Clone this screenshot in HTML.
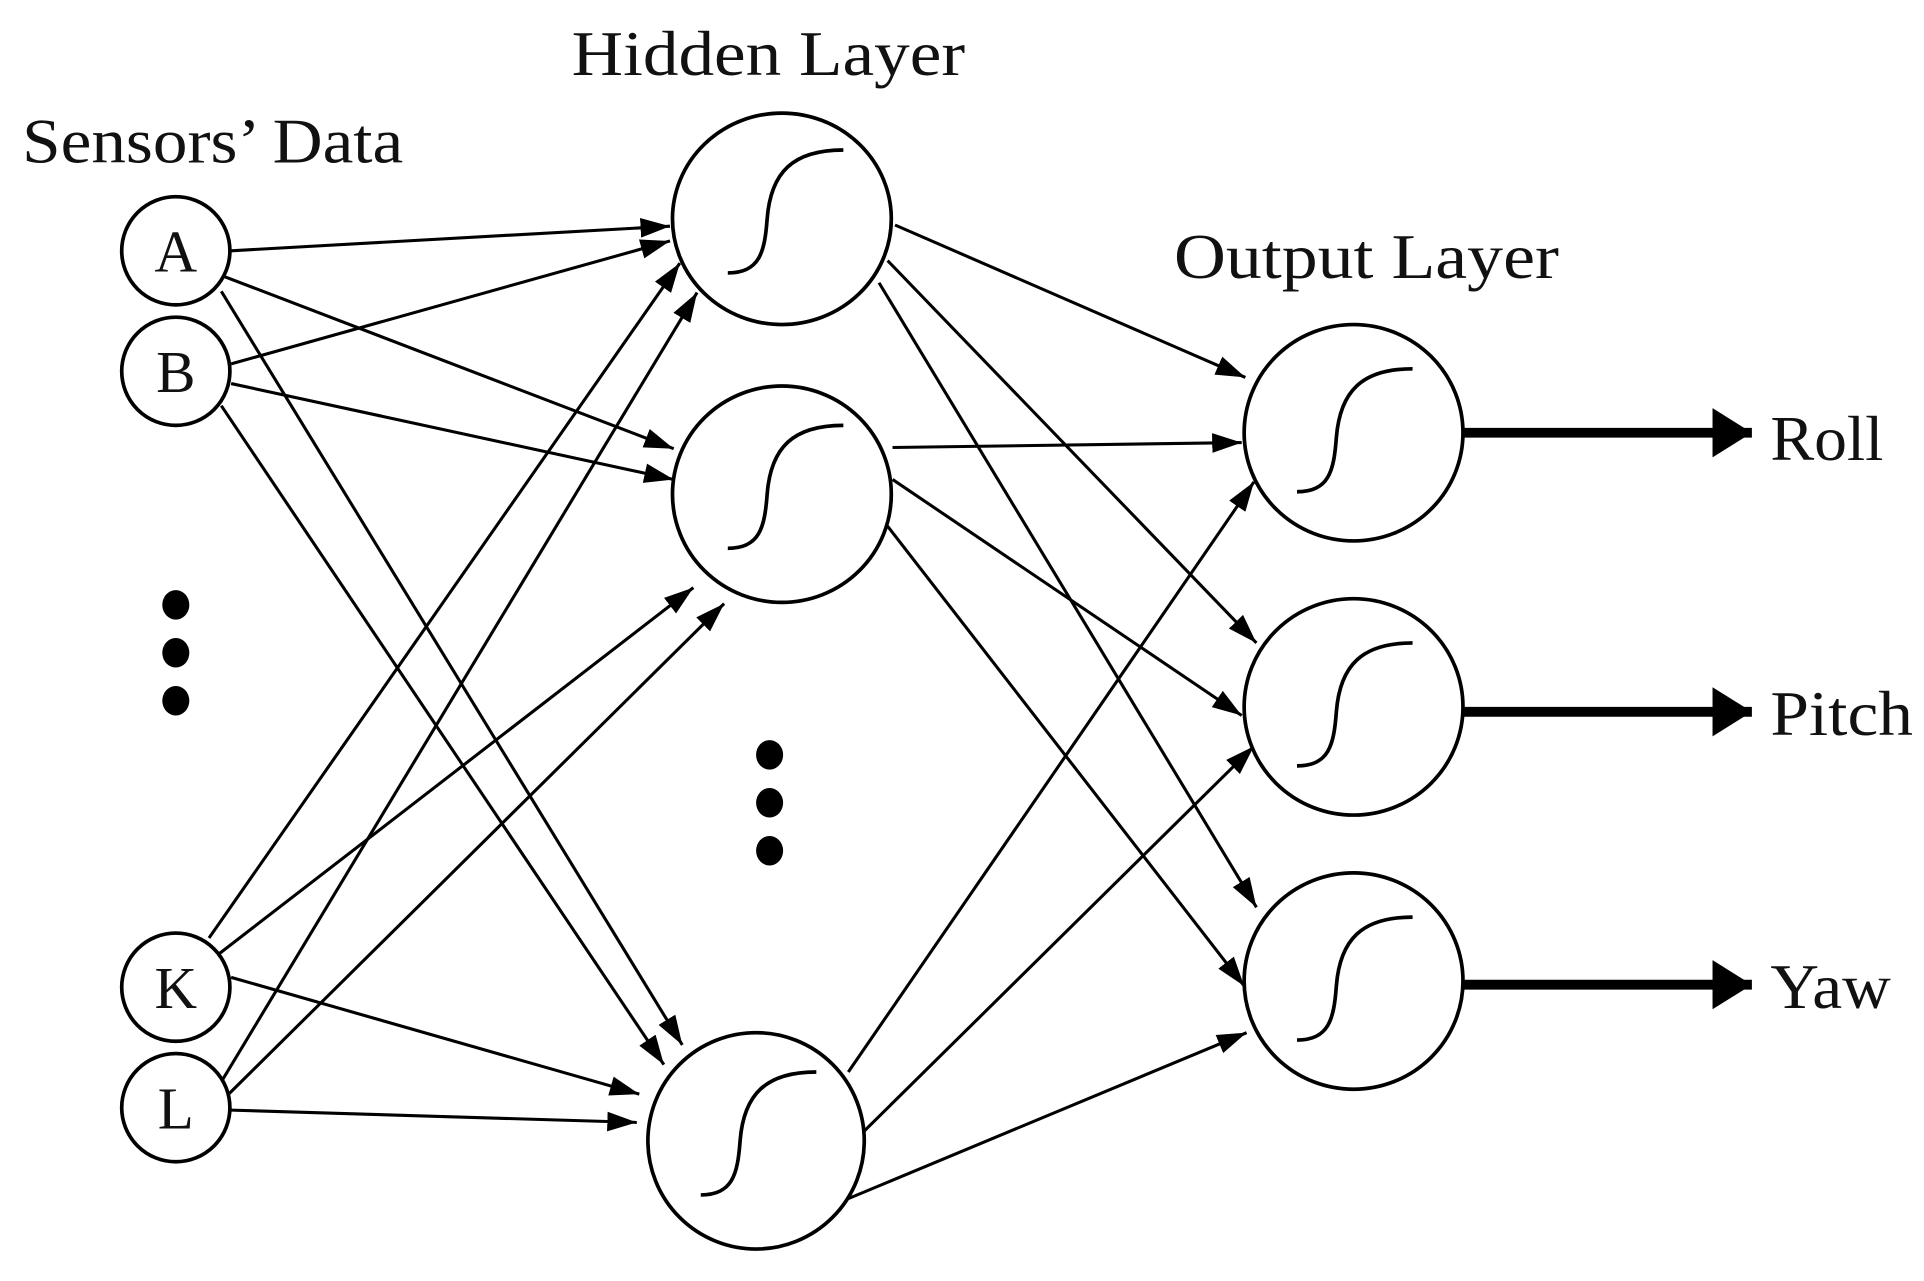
<!DOCTYPE html>
<html><head><meta charset="utf-8"><style>html,body{margin:0;padding:0;background:#fff}svg{display:block}</style></head>
<body>
<svg width="1924" height="1281" viewBox="0 0 1565 1042" preserveAspectRatio="none" xmlns="http://www.w3.org/2000/svg" font-family="'Liberation Serif', serif">
<defs>
<marker id="ar" markerUnits="userSpaceOnUse" markerWidth="26" markerHeight="18" refX="24" refY="8" orient="auto"><path d="M0,0 L24,8 L0,16 Z" fill="#000"/></marker>
<marker id="ab" markerUnits="userSpaceOnUse" markerWidth="34" markerHeight="40" refX="32" refY="20" orient="auto"><path d="M0,0 L32,20 L0,40 Z" fill="#000"/></marker>
</defs>
<rect width="1565" height="1042" fill="#fff"/>
<g fill="#111">
<text x="465" y="61" font-size="52" textLength="320" lengthAdjust="spacingAndGlyphs">Hidden Layer</text>
<text x="18" y="132" font-size="52" textLength="310" lengthAdjust="spacingAndGlyphs">Sensors’ Data</text>
<text x="955" y="226" font-size="52" textLength="313" lengthAdjust="spacingAndGlyphs">Output Layer</text>
<text x="1440" y="374" font-size="52" textLength="92" lengthAdjust="spacingAndGlyphs">Roll</text>
<text x="1440" y="598" font-size="52" textLength="116" lengthAdjust="spacingAndGlyphs">Pitch</text>
<text x="1440" y="820" font-size="52" textLength="98" lengthAdjust="spacingAndGlyphs">Yaw</text>
</g>
<g stroke="#000" stroke-width="2.5" fill="none" marker-end="url(#ar)">
<line x1="188" y1="204" x2="545" y2="184"/>
<line x1="180" y1="224" x2="548" y2="365"/>
<line x1="180" y1="237" x2="555" y2="850"/>
<line x1="188" y1="296" x2="545" y2="196"/>
<line x1="188" y1="312" x2="548" y2="390"/>
<line x1="180" y1="330" x2="540" y2="866"/>
<line x1="170" y1="763" x2="553" y2="214"/>
<line x1="178" y1="776" x2="564" y2="478"/>
<line x1="188" y1="795" x2="520" y2="890"/>
<line x1="180" y1="880" x2="567" y2="238"/>
<line x1="186" y1="890" x2="589" y2="491"/>
<line x1="188" y1="903" x2="518" y2="913"/>
<line x1="728" y1="183" x2="1013" y2="307"/>
<line x1="722" y1="212" x2="1022" y2="523"/>
<line x1="715" y1="230" x2="1022" y2="738"/>
<line x1="726" y1="364" x2="1010" y2="360"/>
<line x1="726" y1="390" x2="1010" y2="582"/>
<line x1="722" y1="428" x2="1012" y2="802"/>
<line x1="690" y1="872" x2="1020" y2="392"/>
<line x1="703" y1="920" x2="1020" y2="607"/>
<line x1="690" y1="975" x2="1014" y2="840"/>
</g>
<g stroke="#000" stroke-width="8" marker-end="url(#ab)">
<line x1="1190" y1="352" x2="1425" y2="352"/>
<line x1="1190" y1="579" x2="1425" y2="579"/>
<line x1="1190" y1="801" x2="1425" y2="801"/>
</g>
<g stroke="#000" stroke-width="3" fill="#fff">
<circle cx="143" cy="204" r="44"/>
<circle cx="143" cy="302" r="44"/>
<circle cx="143" cy="803" r="44"/>
<circle cx="143" cy="901" r="44"/>
<ellipse cx="636" cy="178" rx="89" ry="86"/>
<ellipse cx="636" cy="402" rx="89" ry="88"/>
<ellipse cx="615" cy="928" rx="88" ry="88"/>
<ellipse cx="1101" cy="352" rx="89" ry="88"/>
<ellipse cx="1101" cy="575" rx="89" ry="88"/>
<ellipse cx="1101" cy="798" rx="89" ry="88"/>
</g>
<g fill="#111" font-size="48" text-anchor="middle">
<text x="143" y="221">A</text>
<text x="143" y="319">B</text>
<text x="143" y="820">K</text>
<text x="143" y="918">L</text>
</g>
<g fill="none" stroke="#000" stroke-width="3">
<path d="M592 222 C618 222 622 205 624 178 C627 140 645 122 686 122"/>
<path d="M592 446 C618 446 622 429 624 402 C627 364 645 346 686 346"/>
<path d="M570 972 C596 972 600 955 602 928 C605 890 623 872 664 872"/>
<path d="M1055 400 C1081 400 1085 383 1087 356 C1090 318 1108 300 1149 300"/>
<path d="M1055 623 C1081 623 1085 606 1087 579 C1090 541 1108 523 1149 523"/>
<path d="M1055 846 C1081 846 1085 829 1087 802 C1090 764 1108 746 1149 746"/>
</g>
<g fill="#000">
<ellipse cx="143" cy="492" rx="11" ry="12"/>
<ellipse cx="143" cy="531" rx="11" ry="12"/>
<ellipse cx="143" cy="570" rx="11" ry="12"/>
<ellipse cx="626" cy="614" rx="11" ry="12"/>
<ellipse cx="626" cy="653" rx="11" ry="12"/>
<ellipse cx="626" cy="692" rx="11" ry="12"/>
</g>
</svg>
</body></html>
